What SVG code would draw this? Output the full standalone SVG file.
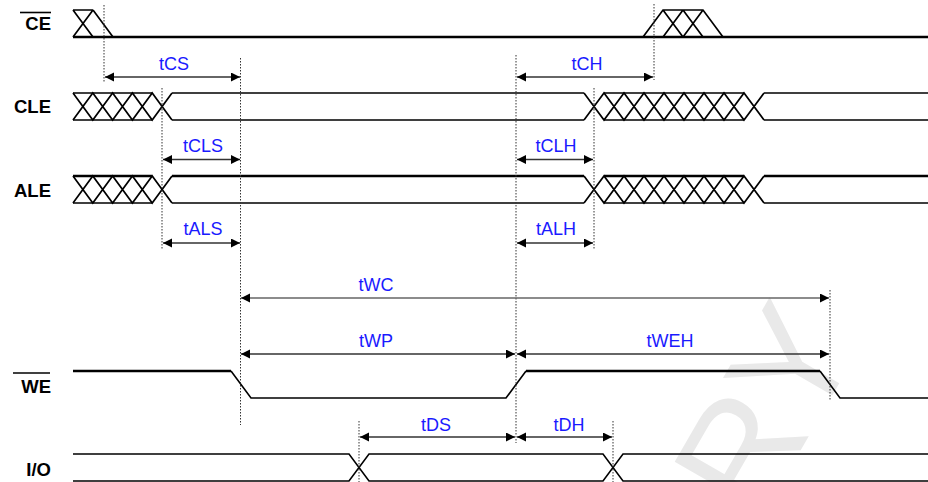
<svg xmlns="http://www.w3.org/2000/svg" width="928" height="482" viewBox="0 0 928 482">
<style>
.bg{fill:#ffffff}
.sig{fill:none;stroke:#000;stroke-width:1.6;stroke-linejoin:miter}
.thk{fill:none;stroke:#000;stroke-width:2.6}
.hat{fill:none;stroke:#000;stroke-width:1.7}
.lbl{font-family:"Liberation Sans",Arial,sans-serif;font-weight:bold;font-size:18.5px;fill:#000;text-anchor:end}
.ov{stroke:#000;stroke-width:1.6}
.dot{fill:none;stroke:#333;stroke-width:1;stroke-dasharray:1.5,1.5}
.dim{fill:none;stroke:#333;stroke-width:1.6;marker-start:url(#ah);marker-end:url(#ah)}
.tl{font-family:"Liberation Sans",Arial,sans-serif;font-size:18px;fill:#1a1aff;text-anchor:middle}
.wm{font-family:"Liberation Sans",Arial,sans-serif;font-size:150px;fill:#e9e9e9}
</style>
<defs>
<marker id="ah" markerUnits="userSpaceOnUse" markerWidth="10" markerHeight="10" refX="9" refY="4.5" orient="auto-start-reverse">
<path d="M0,0 L9,4.5 L0,9 z" fill="#000"/>
</marker>
</defs>
<rect class="bg" x="0" y="0" width="928" height="482"/>
<g id="watermark">
<text class="wm" transform="translate(758,524) rotate(-60)">RY</text>
</g>
<g id="sig-ce">
<text class="lbl" x="51" y="30">CE</text>
<line class="ov" x1="20" y1="12.5" x2="51" y2="12.5"/>
<path class="thk" d="M73,37 H928"/>
<path class="hat" d="M73,10 H93 M73,10 L93,37 M73,37 L93,10 M93,10 L113,37"/>
<path class="hat" d="M643,37 L663,10 H703 L723,37 M663,10 L683,37 M683,10 L703,37 M663,37 L683,10 M683,37 L703,10"/>
</g>
<g id="sig-cle">
<text class="lbl" x="51" y="113">CLE</text>
<path class="sig" d="M73,93 H152.2 M172,93 H584 M604,93 H744 M764,93 H928"/>
<path class="sig" d="M73,120 H152.2 M172,120 H584 M604,120 H744 M764,120 H928"/>
<path class="hat" d="M73,93 L92.8,120 L112.6,93 L132.4,120 L152.2,93 L172,120 M73,120 L92.8,93 L112.6,120 L132.4,93 L152.2,120 L172,93"/>
<path class="hat" d="M584,93 L604,120 L624,93 L644,120 L664,93 L684,120 L704,93 L724,120 L744,93 L764,120 M584,120 L604,93 L624,120 L644,93 L664,120 L684,93 L704,120 L724,93 L744,120 L764,93"/>
</g>
<g id="sig-ale">
<text class="lbl" x="51" y="197">ALE</text>
<path class="thk" d="M73,176 H152.2 M172,176 H584 M604,176 H744 M764,176 H928"/>
<path class="sig" d="M73,203 H152.2 M172,203 H584 M604,203 H744 M764,203 H928"/>
<path class="hat" d="M73,176 L92.8,203 L112.6,176 L132.4,203 L152.2,176 L172,203 M73,203 L92.8,176 L112.6,203 L132.4,176 L152.2,203 L172,176"/>
<path class="hat" d="M584,176 L604,203 L624,176 L644,203 L664,176 L684,203 L704,176 L724,203 L744,176 L764,203 M584,203 L604,176 L624,203 L644,176 L664,203 L684,176 L704,203 L724,176 L744,203 L764,176"/>
</g>
<g id="sig-we">
<text class="lbl" x="51" y="393">WE</text>
<line class="ov" x1="13" y1="373" x2="50" y2="373"/>
<path class="sig" d="M231,371 L251,398 H506 L526,371 M820,371 L840,398 H928"/>
<path class="thk" d="M73,371 H231 M526,371 H820"/>
</g>
<g id="sig-io">
<text class="lbl" x="51" y="476">I/O</text>
<path class="sig" d="M73,454 H349 L369,481 H603 L623,454 H928"/>
<path class="sig" d="M73,481 H349 L369,454 H603 L623,481 H928"/>
</g>
<g id="guides">
<line class="dot" x1="104" y1="5" x2="104" y2="83"/>
<line class="dot" x1="240.5" y1="58" x2="240.5" y2="425"/>
<line class="dot" x1="162" y1="88" x2="162" y2="250"/>
<line class="dot" x1="516" y1="55" x2="516" y2="443"/>
<line class="dot" x1="654" y1="4" x2="654" y2="80"/>
<line class="dot" x1="594" y1="88" x2="594" y2="250"/>
<line class="dot" x1="830" y1="290" x2="830" y2="400"/>
<line class="dot" x1="359" y1="421" x2="359" y2="482"/>
<line class="dot" x1="613" y1="421" x2="613" y2="482"/>
</g>
<g id="connectors">
<line class="dim" x1="105" y1="77" x2="240" y2="77"/>
<line class="dim" x1="517" y1="77" x2="653" y2="77"/>
<line class="dim" x1="163" y1="159.5" x2="240" y2="159.5"/>
<line class="dim" x1="517" y1="159.5" x2="593" y2="159.5"/>
<line class="dim" x1="163" y1="243" x2="240" y2="243"/>
<line class="dim" x1="517" y1="243" x2="593" y2="243"/>
<line class="dim" x1="241" y1="298" x2="829" y2="298" style="stroke:#666"/>
<line class="dim" x1="241" y1="354" x2="515" y2="354"/>
<line class="dim" x1="517" y1="354" x2="829" y2="354"/>
<line class="dim" x1="360" y1="437" x2="515" y2="437"/>
<line class="dim" x1="517" y1="437" x2="612" y2="437"/>
</g>
<g id="labels">
<text class="tl" x="174" y="70">tCS</text>
<text class="tl" x="587" y="70">tCH</text>
<text class="tl" x="203" y="152">tCLS</text>
<text class="tl" x="556" y="152">tCLH</text>
<text class="tl" x="203" y="235">tALS</text>
<text class="tl" x="556" y="235">tALH</text>
<text class="tl" x="376" y="291">tWC</text>
<text class="tl" x="376" y="347">tWP</text>
<text class="tl" x="670" y="347">tWEH</text>
<text class="tl" x="436" y="431">tDS</text>
<text class="tl" x="569" y="431">tDH</text>
</g>
</svg>
